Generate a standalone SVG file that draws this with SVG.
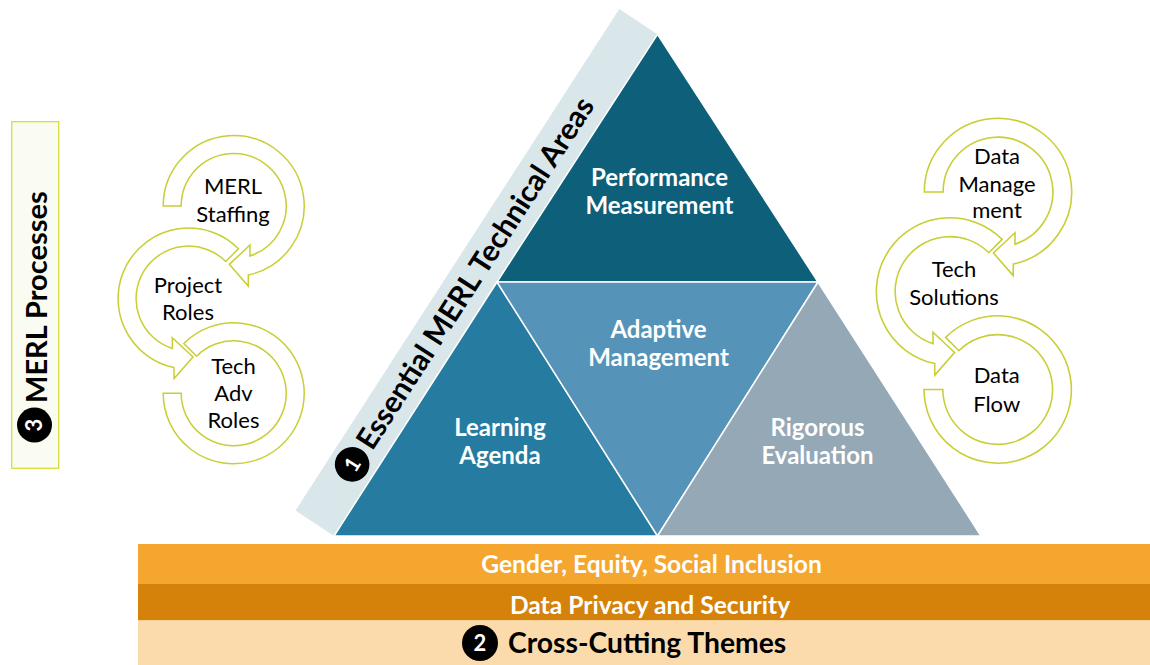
<svg xmlns="http://www.w3.org/2000/svg" xmlns:xlink="http://www.w3.org/1999/xlink" width="1150" height="665" viewBox="0 0 1150 665">
  <defs>
    <style>
      .ring { fill: #ffffff; stroke: #c8ce34; stroke-width: 1.5; stroke-linejoin: miter; }
      .lbl { font-family: Lato, "Open Sans", "Liberation Sans", sans-serif; font-size: 22px; fill: #000000; text-anchor: middle; }
      .tri { stroke: #ffffff; stroke-width: 1.5; stroke-linejoin: miter; }
      .tlbl { font-family: Lato, "Open Sans", "Liberation Sans", sans-serif; font-weight: 700; font-size: 24px; fill: #ffffff; text-anchor: middle; }
      .band-lbl { font-family: Lato, "Open Sans", "Liberation Sans", sans-serif; font-weight: 700; font-size: 24.6px; fill: #ffffff; text-anchor: middle; }
      .title { font-family: Lato, "Open Sans", "Liberation Sans", sans-serif; font-weight: 700; fill: #000000; }
      .badge { fill: #000000; }
      .badge-num { font-family: Lato, "Open Sans", "Liberation Sans", sans-serif; font-weight: 700; fill: #ffffff; text-anchor: middle; }
    </style>
    <!-- circular arrow pieces, centred on the origin (outer r 70.5, inner r 52.5) -->
    <path id="arrow-cw" d="M-70.5,0 A70.5,70.5 0 1 1 14.66,68.96 L14.54,79.99 L-4.39,58.34 L16.32,39.02 L16.22,49.93 A52.5,52.5 0 1 0 -52.5,0 Z"/>
    <path id="arrow-ccw" d="M49.85,-49.85 A70.5,70.5 0 1 0 -14.66,68.96 L-14.54,79.99 L4.39,58.34 L-16.32,39.02 L-16.22,49.93 A52.5,52.5 0 1 1 37.12,-37.12 Z"/>
    <path id="arc-end" d="M-70.5,0 A70.5,70.5 0 1 0 -49.85,-49.85 L-37.12,-37.12 A52.5,52.5 0 1 1 -52.5,0 Z"/>
  </defs>

  <rect width="1150" height="665" fill="#ffffff"/>

  <!-- 3: MERL processes side label -->
  <g id="merl-processes">
    <rect x="11.7" y="121.7" width="47" height="346.6" fill="#fafcf1" stroke="#d5de3c" stroke-width="1.3"/>
    <circle class="badge" cx="34.5" cy="425" r="17.5"/>
    <text class="badge-num" font-size="22" transform="translate(42.2,425) rotate(-90)" x="0" y="0">3</text>
    <text class="title" font-size="29" transform="translate(46.5,403) rotate(-90)">MERL Processes</text>
  </g>

  <!-- left process cycle -->
  <g id="tech-adv-roles">
    <use xlink:href="#arc-end" class="ring" transform="translate(233.7,393.3)"/>
    <text class="lbl" x="233.5" y="374">Tech</text>
    <text class="lbl" x="233.5" y="401">Adv</text>
    <text class="lbl" x="233.5" y="428.3">Roles</text>
  </g>
  <g id="project-roles">
    <use xlink:href="#arrow-ccw" class="ring" transform="translate(188.6,298.6)"/>
    <text class="lbl" x="188" y="292.7">Project</text>
    <text class="lbl" x="188" y="320">Roles</text>
  </g>
  <g id="merl-staffing">
    <use xlink:href="#arrow-cw" class="ring" transform="translate(233.7,206)"/>
    <text class="lbl" x="233" y="194">MERL</text>
    <text class="lbl" x="233" y="221.7">Staffing</text>
  </g>

  <!-- 1: essential technical areas pyramid -->
  <g id="technical-areas-band">
    <polygon points="619.3,9 657.3,34.3 334,536 295.5,510.5" fill="#d9e6ea"/>
    <g transform="translate(314.6,522.6) rotate(-57.2)">
      <circle class="badge" cx="69.3" cy="0" r="17.3"/>
      <text class="badge-num" font-size="21" x="69.3" y="7.5">1</text>
      <text class="title" font-size="29.6" x="91" y="10">Essential MERL Technical Areas</text>
    </g>
  </g>
  <g id="performance-measurement">
    <polygon class="tri" points="657.5,34.3 818,282 497,282" fill="#0e5f7a"/>
    <text class="tlbl" x="659.5" y="186">Performance</text>
    <text class="tlbl" x="659.5" y="214">Measurement</text>
  </g>
  <g id="learning-agenda">
    <polygon class="tri" points="497,282 657.5,536 334,536" fill="#267ba0"/>
    <text class="tlbl" x="500" y="435.7">Learning</text>
    <text class="tlbl" x="500" y="464">Agenda</text>
  </g>
  <g id="adaptive-management">
    <polygon class="tri" points="497,282 818,282 657.5,536" fill="#5594b8"/>
    <text class="tlbl" x="658.5" y="338.3">Adaptive</text>
    <text class="tlbl" x="658.5" y="366">Management</text>
  </g>
  <g id="rigorous-evaluation">
    <polygon class="tri" points="818,282 981,536 657.5,536" fill="#94a8b6"/>
    <text class="tlbl" x="817.5" y="436">Rigorous</text>
    <text class="tlbl" x="817.5" y="464.3">Evaluation</text>
  </g>

  <!-- right process cycle -->
  <g id="data-flow">
    <use xlink:href="#arc-end" class="ring" transform="translate(997.7,389.5) scale(1.045)"/>
    <text class="lbl" x="996.7" y="383.3">Data</text>
    <text class="lbl" x="996.7" y="411.7">Flow</text>
  </g>
  <g id="tech-solutions">
    <use xlink:href="#arrow-ccw" class="ring" transform="translate(950,291.5) scale(1.045)"/>
    <text class="lbl" x="954" y="276.7">Tech</text>
    <text class="lbl" x="954" y="305">Solutions</text>
  </g>
  <g id="data-management">
    <use xlink:href="#arrow-cw" class="ring" transform="translate(998,192) scale(1.045)"/>
    <text class="lbl" x="997" y="164.3">Data</text>
    <text class="lbl" x="997" y="191.7">Manage</text>
    <text class="lbl" x="997" y="218.3">ment</text>
  </g>

  <!-- 2: cross-cutting themes -->
  <g id="gender-equity">
    <rect x="138" y="544" width="1012" height="40" fill="#f5a62e"/>
    <text class="band-lbl" x="651.5" y="573">Gender, Equity, Social Inclusion</text>
  </g>
  <g id="data-privacy">
    <rect x="138" y="584" width="1012" height="36.5" fill="#d4820a"/>
    <text class="band-lbl" x="650" y="614">Data Privacy and Security</text>
  </g>
  <g id="cross-cutting-themes">
    <rect x="138" y="620.5" width="1012" height="44.5" fill="#fbdbab"/>
    <circle class="badge" cx="480" cy="643" r="18"/>
    <text class="badge-num" font-size="22" x="480" y="650.5">2</text>
    <text class="title" font-size="28.3" x="508" y="653.3">Cross-Cutting Themes</text>
  </g>
</svg>
